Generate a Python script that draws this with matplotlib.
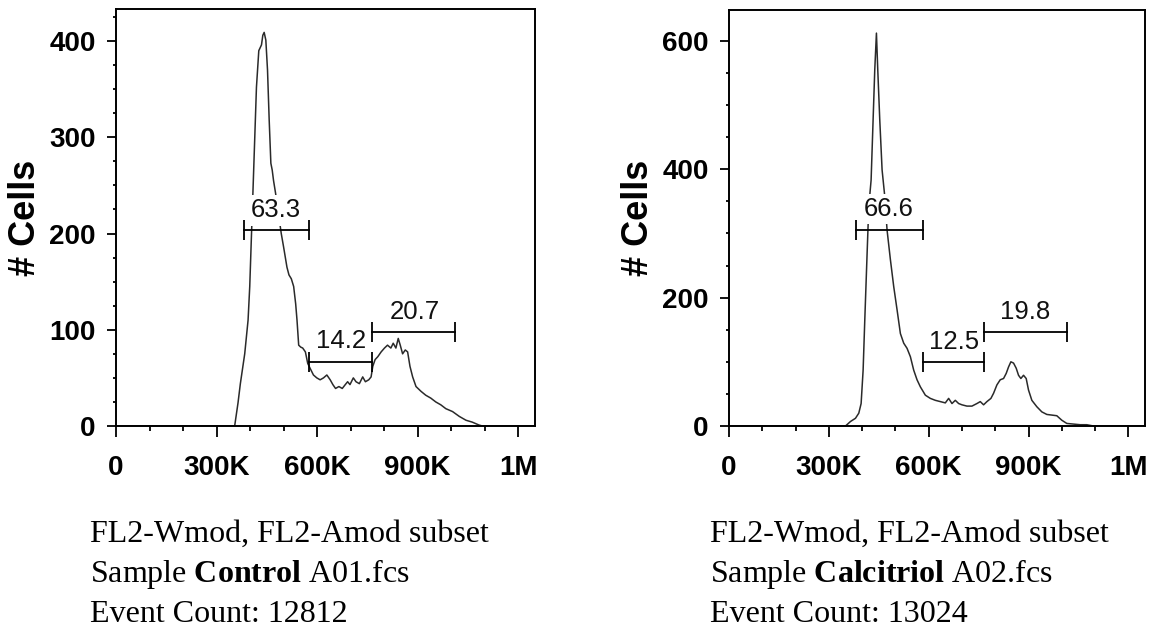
import matplotlib
matplotlib.use("Agg")
import matplotlib.pyplot as plt
from matplotlib.ticker import MultipleLocator

plt.rcParams['font.family'] = ['Liberation Sans', 'DejaVu Sans']
plt.rcParams['mathtext.fontset'] = 'custom'
plt.rcParams['mathtext.rm'] = 'Liberation Serif'
plt.rcParams['mathtext.bf'] = 'Liberation Serif:bold'

# FL2 channel (K) and counts
ctrl_x = [0, 354, 364, 371, 384, 394, 399, 404, 409, 414, 419, 426, 434, 438, 442, 447, 452,
          457, 462, 466, 470, 476, 493, 500, 510, 516, 523, 530, 536, 540, 545, 551, 557, 565,
          572, 579, 589, 599, 609, 619, 629, 639, 647, 655, 665, 675, 684, 691, 698, 708, 716,
          726, 736, 744, 754, 761, 766, 773, 781, 791, 801, 810, 820, 827, 835, 842, 848, 855,
          863, 870, 877, 885, 895, 910, 924, 939, 954, 969, 984, 1004, 1024, 1044, 1063, 1083,
          1093, 1250]
ctrl_y = [0, 0, 24, 44, 75, 110, 145, 197, 248, 300, 352, 390, 396, 406, 409, 401, 370,
          318, 273, 266, 255, 242, 200, 186, 165, 157, 153, 145, 127, 110, 84, 82, 81, 77,
          65, 60, 53, 50, 48, 50, 53, 48, 43, 39, 41, 39, 43, 46, 43, 50, 46,
          44, 51, 46, 48, 51, 62, 69, 72, 77, 81, 84, 81, 86, 81, 91, 84, 75,
          79, 77, 62, 51, 41, 36, 32, 29, 25, 22, 18, 15, 10, 6, 4, 1,
          0, 0]

calc_x = [0, 350, 365, 380, 390, 397, 403, 408, 415, 420, 427, 433, 438, 443, 447, 453, 460,
          467, 475, 485, 495, 505, 515, 525, 535, 545, 555, 565, 575, 590, 605, 620, 635, 650,
          660, 670, 680, 690, 700, 715, 730, 745, 755, 765, 775, 787, 795, 805, 815, 825, 833,
          840, 847, 855, 863, 870, 877, 885, 893, 900, 910, 925, 940, 955, 970, 985, 1000,
          1015, 1035, 1055, 1075, 1095, 1250]
calc_y = [0, 0, 7, 12, 20, 35, 87, 165, 269, 342, 383, 477, 555, 612, 555, 477, 399,
          363, 305, 259, 217, 181, 144, 129, 121, 108, 87, 72, 61, 48, 43, 40, 38, 36,
          43, 35, 40, 35, 33, 31, 31, 35, 38, 33, 38, 43, 51, 64, 72, 74, 82,
          92, 100, 98, 90, 79, 74, 79, 74, 56, 40, 30, 22, 18, 17, 16, 9,
          4, 3, 2, 2, 0, 0]

# gates: (start K, end K, bar height, label, label x K, label y)
ctrl_gates = [(382, 577, 204, '63.3', 478, 224),
              (577, 763, 66, '14.2', 672, 88),
              (763, 1012, 98, '20.7', 890, 118)]
calc_gates = [(383, 583, 305, '66.6', 480, 338),
              (583, 765, 99, '12.5', 675, 131),
              (765, 1015, 146, '19.8', 890, 178)]

xticks = [0, 300, 600, 900, 1200]
xticklabels = ['0', '300K', '600K', '900K', '1M']

panels = [
    dict(x=ctrl_x, y=ctrl_y, gates=ctrl_gates, ylim=433, ymajor=100, yminor=25,
         pos=[116/1152, 205/631, 419/1152, 416.7/631],
         caption=['FL2-Wmod, FL2-Amod subset', r'Sample $\mathbf{Control}$ A01.fcs',
                  'Event Count: 12812'], cx=90/1152),
    dict(x=calc_x, y=calc_y, gates=calc_gates, ylim=648, ymajor=200, yminor=50,
         pos=[729/1152, 205/631, 416/1152, 416/631],
         caption=['FL2-Wmod, FL2-Amod subset', r'Sample $\mathbf{Calcitriol}$ A02.fcs',
                  'Event Count: 13024'], cx=710/1152),
]

fig = plt.figure(figsize=(11.52, 6.31), dpi=100)

for p in panels:
    ax = fig.add_axes(p['pos'])
    ax.plot(p['x'], p['y'], color='#2a2a2a', lw=1.1, zorder=2)
    for x0, x1, h, lab, lx, ly in p['gates']:
        ax.plot([x0, x1], [h, h], color='black', lw=1.3, marker='|', markersize=15,
                markeredgewidth=1.3, zorder=4)
        ax.text(lx, ly, lab, ha='center', va='center', fontsize=18.5, color='#111111',
                zorder=3, bbox=dict(boxstyle='square,pad=0.12', fc='white', ec='none'))
    ax.set_xlim(0, 1250)
    ax.set_ylim(0, p['ylim'])
    ax.set_xticks(xticks)
    ax.set_xticklabels(xticklabels)
    ax.xaxis.set_minor_locator(MultipleLocator(100))
    ax.yaxis.set_major_locator(MultipleLocator(p['ymajor']))
    ax.yaxis.set_minor_locator(MultipleLocator(p['yminor']))
    ax.tick_params(axis='x', which='major', length=8, width=1.3, pad=13, labelsize=20)
    ax.tick_params(axis='x', which='minor', length=3.6, width=1.3)
    ax.tick_params(axis='y', which='major', length=6.5, width=1.3, pad=8, labelsize=20)
    ax.tick_params(axis='y', which='minor', length=2.4, width=1.3)
    for lbl in ax.get_xticklabels() + ax.get_yticklabels():
        lbl.set_fontweight('bold')
    for s in ax.spines.values():
        s.set_linewidth(1.4)
    ax.set_ylabel('# Cells', fontsize=26, fontweight='bold')
    ax.yaxis.set_label_coords(-0.175, 0.5)

    base = (631 - 541.7) / 631
    for i, line in enumerate(p['caption']):
        fig.text(p['cx'], base - i * 40 / 631, line, fontsize=23,
                 family='Liberation Serif', va='baseline', ha='left')

fig.savefig('out.png', dpi=100)
